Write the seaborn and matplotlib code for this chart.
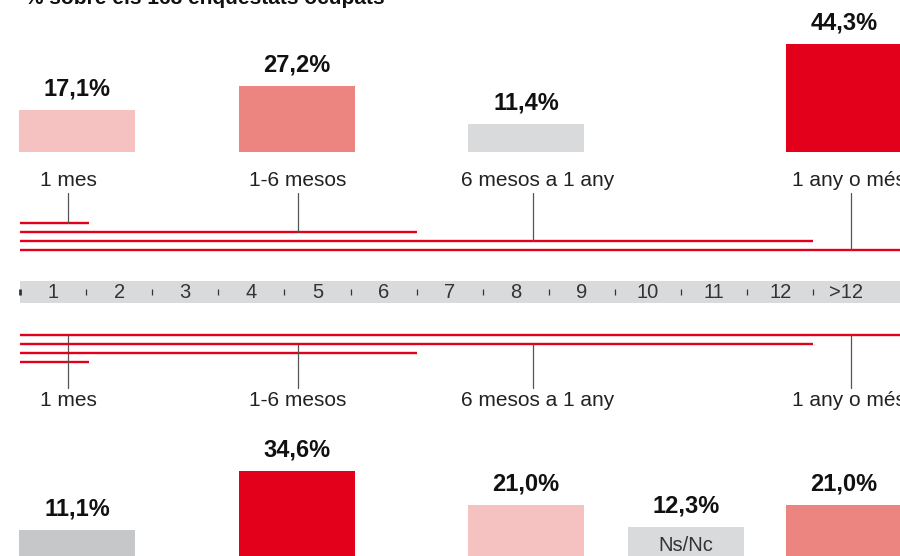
import numpy as np
import pandas as pd
import matplotlib
matplotlib.use("Agg")
import matplotlib.pyplot as plt
from matplotlib.patches import Rectangle
import seaborn as sns

# ---------------- data ----------------
title = "% sobre els 168 enquestats ocupats"
top_categories = ["1 mes", "1-6 mesos", "6 mesos a 1 any", "1 any o més"]
top_values = [17.1, 27.2, 11.4, 44.3]
bottom_categories = ["1 mes", "1-6 mesos", "6 mesos a 1 any", "Ns/Nc", "1 any o més"]
bottom_values = [11.1, 34.6, 21.0, 12.3, 21.0]
month_labels = ["1", "2", "3", "4", "5", "6", "7", "8", "9", "10", "11", "12", ">12"]
duration_categories = ["1 mes", "1-6 mesos", "6 mesos a 1 any", "1 any o més"]
duration_end_months = [1.05, 6, 12, 13.5]

# ---------------- layout / style ----------------
W, H = 900, 556
top_pos = [77, 297, 526, 844]
bottom_pos = [77, 297, 526, 686, 844]
bar_w_px = 116
top_colors = ["#f6c2c1", "#ec8480", "#d9dadc", "#e2001a"]
bottom_colors = ["#c6c7c9", "#e2001a", "#f6c2c1", "#d9dadc", "#ec8480"]
RED = "#e2001a"
ruler_x0, month_px = 20, 66.1

sns.set_theme(style="white")
plt.rcParams['font.family'] = ['Liberation Sans', 'DejaVu Sans']

fig = plt.figure(figsize=(9, 5.56), dpi=100)
fig.patch.set_facecolor("white")

# overlay axes in pixel coordinates
ax = fig.add_axes([0, 0, 1, 1])
ax.set_xlim(0, W)
ax.set_ylim(H, 0)
ax.axis("off")


def bar_panel(rect, values, cats, pos, colors, ymax):
    a = fig.add_axes(rect)
    df = pd.DataFrame({"cat": cats, "val": values, "pos": pos})
    width = bar_w_px / np.min(np.diff(sorted(pos)))
    sns.barplot(data=df, x="pos", y="val", hue="cat", hue_order=cats,
                palette=colors, native_scale=True, dodge=False,
                width=width, errorbar=None, legend=False, ax=a,
                saturation=1, linewidth=0)
    a.set_xlim(0, W)
    a.set_ylim(0, ymax)
    a.axis("off")
    for x, v in zip(pos, values):
        a.annotate(f"{v:.1f}".replace(".", ",") + "%", xy=(x, v),
                   xytext=(0, 21), textcoords="offset pixels",
                   ha="center", va="center", fontsize=17,
                   fontweight="bold", color="#111111")
    return a


# top bars: baseline at 152 px, 2.43 px per %
tb, ts = 152, 2.43
ax_t = bar_panel([0, (H - tb) / H, 1, tb / H], top_values, top_categories,
                 top_pos, top_colors, tb / ts)
# bottom bars: baseline at 557.5 px, 2.5 px per %
bb, bs, btop = 557.5, 2.5, 420
ax_b = bar_panel([0, (H - bb) / H, 1, (bb - btop) / H], bottom_values,
                 bottom_categories, bottom_pos, bottom_colors, (bb - btop) / bs)
i_ns = bottom_categories.index("Ns/Nc")
ax_b.text(bottom_pos[i_ns], bottom_values[i_ns] * 0.4, "Ns/Nc", ha="center",
          va="center", fontsize=14.5, color="#333333")

# title (cropped at the top edge, as in the reference)
ax.text(25, 4.5, title, fontsize=15, fontweight="bold", color="#111111",
        ha="left", va="baseline")

# ruler band
ax.add_patch(Rectangle((ruler_x0, 281), W - ruler_x0 + 5, 22,
                       facecolor="#d9dadc", edgecolor="none"))
for k in range(len(month_labels)):
    x = ruler_x0 + month_px * k
    ax.plot([x, x], [289, 295], color="#333333", lw=2 if k == 0 else 0.9,
            solid_capstyle="butt")
for i, lab in enumerate(month_labels):
    ax.text(ruler_x0 + month_px * (i + 0.5), 292.5, lab, ha="center",
            va="center", fontsize=14.5, color="#333333")

# duration lines, connectors and labels
conn_x = [68, 298, 533, 851]
label_x = [68, 298, 538, 849]
top_line_y = [223, 232, 241, 250]
bottom_line_y = [362, 353, 344, 335]
bottom_conn_start = [335, 344, 344, 335]
for i, cat in enumerate(duration_categories):
    xe = ruler_x0 + month_px * duration_end_months[i]
    ax.plot([ruler_x0, xe], [top_line_y[i]] * 2, color=RED, lw=1.7,
            solid_capstyle="butt")
    ax.plot([ruler_x0, xe], [bottom_line_y[i]] * 2, color=RED, lw=1.7,
            solid_capstyle="butt")
    ax.plot([conn_x[i]] * 2, [193, top_line_y[i]], color="#555555", lw=0.9)
    ax.plot([conn_x[i]] * 2, [bottom_conn_start[i], 388], color="#555555", lw=0.9)
    ax.text(label_x[i], 180.5, cat, ha="center", va="center", fontsize=15,
            color="#222222")
    ax.text(label_x[i], 401, cat, ha="center", va="center", fontsize=15,
            color="#222222")

fig.savefig("out.png", dpi=100)
